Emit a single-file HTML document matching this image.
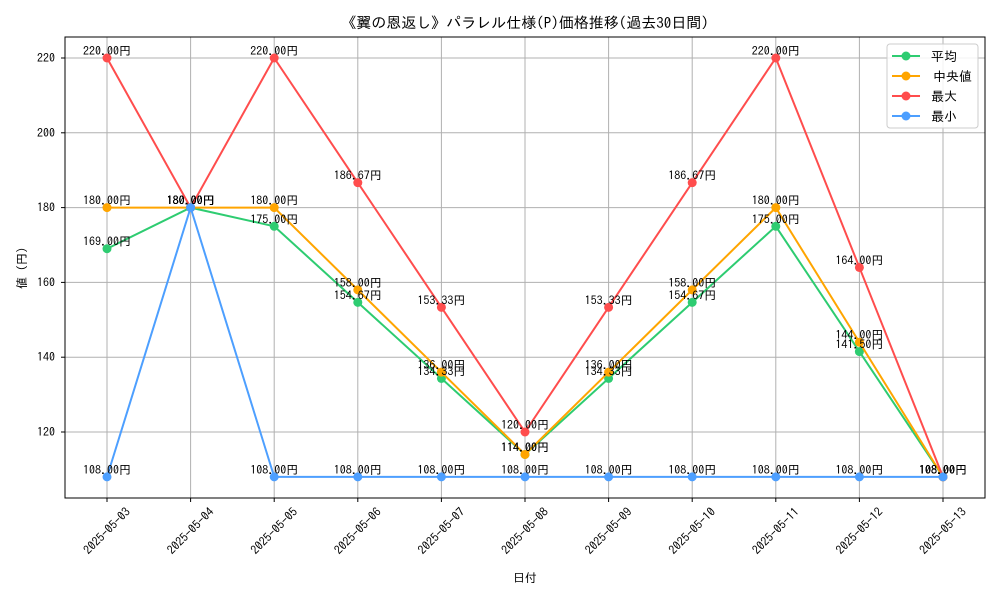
<!DOCTYPE html>
<html><head><meta charset="utf-8"><style>
body{margin:0;background:#fff}
svg{font-family:"IPAGothic","Liberation Sans","Noto Sans CJK JP",sans-serif}
</style></head><body>
<svg id="chart" width="1000" height="600" xmlns="http://www.w3.org/2000/svg">
<rect width="1000" height="600" fill="#fff"/>
<text x="525" y="28" text-anchor="middle" font-size="15">《翼の恩返し》パラレル仕様(P)価格推移(過去30日間)</text>
<g id="grid"></g>
<g id="axes"></g>
<g id="series"></g>
<g id="labels"></g>
<rect x="65" y="37" width="920" height="461" fill="none" stroke="#000" stroke-width="1"/>
<text transform="translate(26,268) rotate(-90)" text-anchor="middle" font-size="12">値 (円)</text>
<text x="525" y="582" text-anchor="middle" font-size="12">日付</text>
<g id="legend">
<rect x="887" y="44" width="91" height="84" rx="3" fill="#fff" fill-opacity="0.85" stroke="#ccc"/>
</g>
</svg>
<script>
const categories=["2025-05-03","2025-05-04","2025-05-05","2025-05-06","2025-05-07","2025-05-08","2025-05-09","2025-05-10","2025-05-11","2025-05-12","2025-05-13"];
const meanVals=[169,180,175,154.67,134.33,114,134.33,154.67,175,141.5,108];
const medianVals=[180,180,180,158,136,114,136,158,180,144,108];
const maxVals=[220,180,220,186.67,153.33,120,153.33,186.67,220,164,108];
const minVals=[108,180,108,108,108,108,108,108,108,108,108];
const yTicks=[120,140,160,180,200,220];
const seriesNames=["平均","中央値","最大","最小"];
const NS="http://www.w3.org/2000/svg";
function xs(i){return 107+i*(943-107)/(categories.length-1);}
function ys(v){return 432-(v-120)*3.74;}
function mk(tag,attrs,parent){const e=document.createElementNS(NS,tag);for(const k in attrs)e.setAttribute(k,attrs[k]);parent.appendChild(e);return e;}
const grid=document.getElementById('grid'),axes=document.getElementById('axes'),ser=document.getElementById('series'),lab=document.getElementById('labels');
categories.forEach((c,i)=>{
 const x=xs(i);
 const g=mk('line',{x1:x,x2:x,y1:37,y2:498,stroke:'#b0b0b0','stroke-width':1},grid);
 
 
 const t=mk('line',{x1:x,x2:x,y1:498,y2:502,stroke:'#000'},axes);
 
 
 const tx=mk('text',{transform:`translate(${x},${531}) rotate(-45)`,'text-anchor':'middle','dominant-baseline':'central','font-size':12},axes);
 tx.textContent=c;
 
 
});
yTicks.forEach(v=>{
 const y=ys(v);
 const g=mk('line',{x1:65,x2:985,y1:y,y2:y,stroke:'#b0b0b0','stroke-width':1},grid);
 
 
 const t=mk('line',{x1:61,x2:65,y1:y,y2:y,stroke:'#000'},axes);
 
 
 const tx=mk('text',{x:55,y:y+4,'text-anchor':'end','font-size':12},axes);
 tx.textContent=v;
 
 
});
const all=[meanVals,medianVals,maxVals,minVals];
const colors=["#2ecc71","#ffa500","#ff4d4d","#4d9fff"];
const keys=["mean","median","max","min"];
all.forEach((vals,s)=>{
 const pts=vals.map((v,i)=>xs(i)+','+ys(v)).join(' ');
 const pl=mk('polyline',{points:pts,fill:'none',stroke:colors[s],'stroke-width':2},ser);
 
 
 vals.forEach((v,i)=>{
  const c=mk('circle',{cx:xs(i),cy:ys(v),r:4.5,fill:colors[s]},ser);
  
  
  const t=mk('text',{x:xs(i),y:ys(v)-3,'text-anchor':'middle','font-size':12},lab);
  t.textContent=v.toFixed(2)+'円';
  
  
 });
});
const lg=document.getElementById('legend');
seriesNames.forEach((n,s)=>{
 const y=56+s*20;
 const l=mk('line',{x1:892,x2:920,y1:y,y2:y,stroke:colors[s],'stroke-width':2},lg);
 
 
 const c=mk('circle',{cx:906,cy:y,r:4.5,fill:colors[s]},lg);
 
 
 const t=mk('text',{x:s==1?933:931,y:y+5,'font-size':13},lg);
 t.textContent=n;
 
 
});
</script>
</body></html>
